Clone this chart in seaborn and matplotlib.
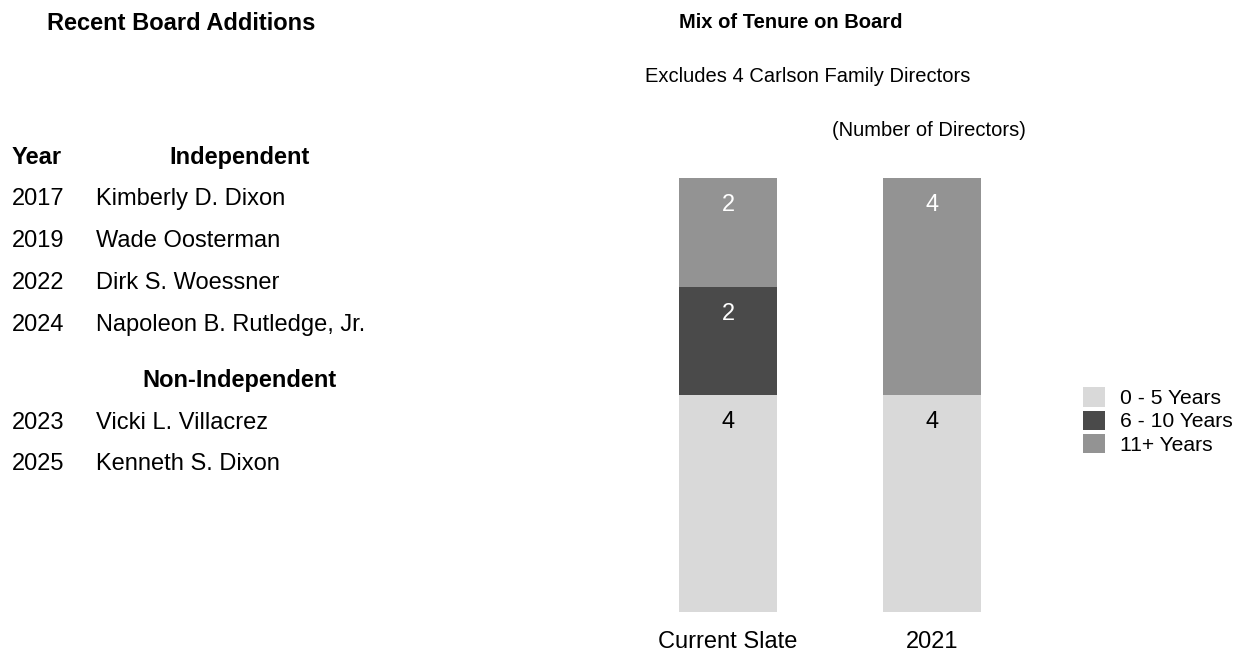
import matplotlib
matplotlib.use("Agg")
import matplotlib.pyplot as plt
from matplotlib.patches import Patch
import seaborn as sns
import numpy as np

# ---- data -------------------------------------------------------------
categories = ["Current Slate", "2021"]
tenure_0_5 = [4, 4]
tenure_6_10 = [2, 0]
tenure_11_plus = [2, 4]
series_names = ["0 - 5 Years", "6 - 10 Years", "11+ Years"]
series_colors = ["#d9d9d9", "#4a4a4a", "#939393"]
label_colors = ["black", "white", "white"]

independent_years = ["2017", "2019", "2022", "2024"]
independent_names = ["Kimberly D. Dixon", "Wade Oosterman", "Dirk S. Woessner",
                     "Napoleon B. Rutledge, Jr."]
non_independent_years = ["2023", "2025"]
non_independent_names = ["Vicki L. Villacrez", "Kenneth S. Dixon"]

# ---- style ------------------------------------------------------------
sns.set_theme(style="white")
plt.rcParams["font.family"] = ["Liberation Sans", "DejaVu Sans"]
plt.rcParams["text.color"] = "black"
plt.rcParams["xtick.color"] = "black"
plt.rcParams["xtick.labelcolor"] = "black"

W, H = 1241, 652
fig = plt.figure(figsize=(W / 100, H / 100), dpi=100)


def fx(px):
    return px / W


def fy(py):
    return 1 - py / H


# ---- left panel: table of recent additions ----------------------------
TXT = 17
fig.text(fx(181), fy(23), "Recent Board Additions", fontsize=TXT, fontweight="bold",
         ha="center", va="center")
fig.text(fx(12), fy(157), "Year", fontsize=TXT, fontweight="bold", ha="left", va="center")
fig.text(fx(240), fy(157), "Independent", fontsize=TXT, fontweight="bold",
         ha="center", va="center")
row_y = [199, 241, 283, 325]
for y, yr, nm in zip(row_y, independent_years, independent_names):
    fig.text(fx(12), fy(y), yr, fontsize=TXT, ha="left", va="center")
    fig.text(fx(96.5), fy(y), nm, fontsize=TXT, ha="left", va="center")
fig.text(fx(240), fy(381), "Non-Independent", fontsize=TXT, fontweight="bold",
         ha="center", va="center")
row_y2 = [423, 464]
for y, yr, nm in zip(row_y2, non_independent_years, non_independent_names):
    fig.text(fx(12), fy(y), yr, fontsize=TXT, ha="left", va="center")
    fig.text(fx(96.5), fy(y), nm, fontsize=TXT, ha="left", va="center")

# ---- right panel: stacked tenure bars ----------------------------------
fig.text(fx(791), fy(23), "Mix of Tenure on Board", fontsize=14.5, fontweight="bold",
         ha="center", va="center")
fig.text(fx(808), fy(76), "Excludes 4 Carlson Family Directors", fontsize=14.5,
         ha="center", va="center")
fig.text(fx(929), fy(130), "(Number of Directors)", fontsize=14.5,
         ha="center", va="center")

ax = fig.add_axes([fx(626), fy(612), fx(408), (612 - 178) / H])

layers = [np.array(tenure_0_5), np.array(tenure_6_10), np.array(tenure_11_plus)]
tops = np.cumsum(layers, axis=0)

# draw from the tallest cumulative stack down so each segment shows on top
for k in range(len(layers) - 1, -1, -1):
    sns.barplot(x=categories, y=tops[k], color=series_colors[k], saturation=1,
                width=0.48, linewidth=0, ax=ax)

for k in range(len(layers)):
    for i in range(len(categories)):
        if layers[k][i] > 0:
            ax.annotate(str(layers[k][i]), xy=(i, tops[k][i]), xytext=(0, -19.5),
                        textcoords="offset points", ha="center", va="center",
                        fontsize=17, color=label_colors[k])

ax.set_xlim(-0.5, 1.5)
ax.set_ylim(0, tops[-1].max())
ax.set_yticks([])
ax.set_xlabel("")
ax.set_ylabel("")
ax.tick_params(axis="x", length=0, pad=14, labelsize=17, labelcolor="black")
for s in ax.spines.values():
    s.set_visible(False)

handles = [Patch(facecolor=c, edgecolor="none") for c in series_colors]
fig.legend(handles, series_names, loc="center left", bbox_to_anchor=(fx(1083), fy(421)),
           frameon=False, fontsize=15.2, handlelength=1.05, handleheight=1.05,
           handletextpad=0.7, labelspacing=0.1, borderpad=0, borderaxespad=0,
           labelcolor="black")

fig.savefig("out.png", dpi=100)
